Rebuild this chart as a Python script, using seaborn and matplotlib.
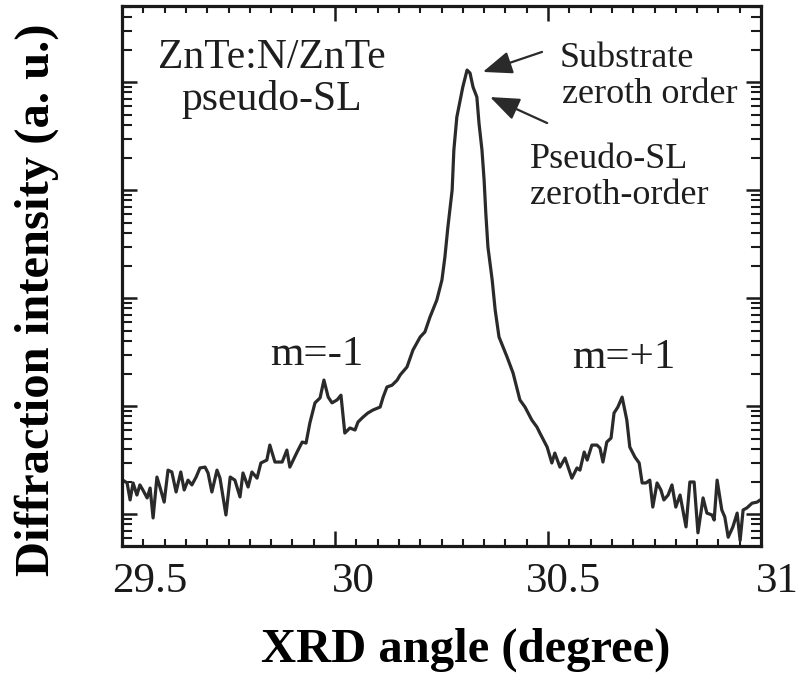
import numpy as np
import pandas as pd
import matplotlib
matplotlib.use("Agg")
import matplotlib.pyplot as plt
import matplotlib.transforms as mtransforms
from matplotlib.ticker import MultipleLocator, LogLocator, NullFormatter
import seaborn as sns

# ---------------- data ----------------
angle = [29.502, 29.512, 29.519, 29.526, 29.535, 29.542, 29.549, 29.559, 29.566, 29.573,
         29.582, 29.589, 29.599, 29.608, 29.617, 29.627, 29.638, 29.646, 29.655, 29.664,
         29.674, 29.683, 29.695, 29.702, 29.711, 29.723, 29.730, 29.744, 29.754, 29.765,
         29.777, 29.784, 29.796, 29.805, 29.817, 29.826, 29.840, 29.847, 29.859, 29.876,
         29.887, 29.894, 29.911, 29.923, 29.932, 29.941, 29.953, 29.965, 29.974, 29.984,
         29.993, 30.005, 30.014, 30.023, 30.035, 30.047, 30.054, 30.066, 30.077, 30.089,
         30.106, 30.113, 30.122, 30.134, 30.146, 30.153, 30.169, 30.183, 30.200, 30.211,
         30.223, 30.239, 30.251, 30.258, 30.265, 30.275, 30.279, 30.286, 30.293, 30.300,
         30.310, 30.317, 30.324, 30.333, 30.338, 30.345, 30.350, 30.354, 30.359, 30.369,
         30.376, 30.385, 30.404, 30.418, 30.434, 30.446, 30.462, 30.474, 30.481, 30.498,
         30.509, 30.516, 30.528, 30.540, 30.556, 30.568, 30.575, 30.585, 30.592, 30.603,
         30.615, 30.622, 30.629, 30.638, 30.648, 30.655, 30.664, 30.674, 30.685, 30.692,
         30.704, 30.714, 30.721, 30.730, 30.739, 30.746, 30.756, 30.765, 30.772, 30.782,
         30.791, 30.800, 30.810, 30.824, 30.833, 30.843, 30.852, 30.864, 30.873, 30.885,
         30.890, 30.897, 30.908, 30.915, 30.923, 30.934, 30.944, 30.951, 30.958, 30.967,
         30.979, 30.991, 30.998]
intensity = [20.6, 19.4, 13.5, 19.4, 15.0, 18.6, 16.7, 14.1, 17.4, 9.2,
             22.0, 17.8, 12.9, 25.5, 24.5, 16.0, 24.5, 16.7, 20.6, 18.6,
             22.0, 26.7, 27.2, 24.0, 16.0, 25.5, 21.5, 9.8, 22.0, 20.6,
             14.4, 24.0, 17.8, 24.5, 21.5, 29.7, 31.6, 43.5, 30.3, 30.3,
             39.1, 27.2, 37.5, 46.4, 45.4, 69.7, 107, 119, 174, 121,
             107, 114, 126, 56.2, 62.6, 60.0, 71.1, 79.1, 86.1, 91.8,
             97.9, 121, 150, 156, 174, 194, 230, 330, 436, 485,
             667, 958, 1467, 2400, 4540, 10000, 23450, 47400, 65300, 89900,
             129000, 121000, 89900, 72600, 41700, 23450, 12380, 6120, 2967, 1467,
             774, 436, 284, 202, 114, 97.9, 74.2, 63.9, 56.2, 41.7,
             29.7, 36.7, 27.2, 33.0, 21.5, 26.7, 25.5, 37.5, 31.6, 43.5,
             43.5, 40.8, 30.3, 46.4, 50.5, 86.1, 97.9, 121, 74.2, 41.7,
             33.7, 29.7, 19.4, 19.4, 20.6, 11.6, 19.4, 16.7, 13.5, 15.0,
             18.6, 11.6, 15.0, 7.6, 19.8, 19.8, 6.7, 14.1, 10.2, 9.8,
             8.8, 20.6, 10.9, 9.4, 6.1, 7.6, 10.2, 5.7, 10.9, 11.4,
             12.6, 12.9, 13.5]

x_ticks = [29.5, 30.0, 30.5, 31.0]
x_tick_labels = ["29.5", "30", "30.5", "31"]

# arrow endpoints (data units): tail -> tip
arrow_sub_tail = (30.486, 1.9e5)
arrow_sub_tip = (30.347, 1.24e5)
arrow_sl_tail = (30.498, 4.17e4)
arrow_sl_tip = (30.364, 7.26e4)

df = pd.DataFrame({"angle": angle, "intensity": intensity})

# ---------------- style ----------------
sns.set_style("ticks")
plt.rcParams["font.family"] = ["Liberation Serif", "DejaVu Serif"]
plt.rcParams["mathtext.fontset"] = "custom"

fig = plt.figure(figsize=(8.01, 6.87), dpi=100)
ax = fig.add_axes([122 / 801, 1 - 546 / 687, 639 / 801, 540 / 687])

sns.lineplot(data=df, x="angle", y="intensity", ax=ax, color="#2a2a2a",
             linewidth=2.3, estimator=None, sort=False, legend=False)

ax.set_yscale("log")
ax.set_xlim(29.5, 31.0)
ax.set_ylim(10 ** 0.704, 10 ** 5.704)

ax.set_xticks(x_ticks)
ax.set_xticklabels(x_tick_labels)
ax.xaxis.set_minor_locator(MultipleLocator(0.05))
ax.yaxis.set_major_locator(LogLocator(base=10, numticks=20))
ax.yaxis.set_minor_locator(LogLocator(base=10, subs=np.arange(2, 10), numticks=20))
ax.yaxis.set_major_formatter(NullFormatter())
ax.yaxis.set_minor_formatter(NullFormatter())

for sp in ax.spines.values():
    sp.set_linewidth(2.3)
    sp.set_color("#1a1a1a")

ax.tick_params(which="both", direction="in", top=True, right=True,
               color="#1a1a1a")
ax.tick_params(axis="x", which="major", length=11, width=1.8,
               labelsize=31, pad=12, labelcolor="#1a1a1a")
ax.tick_params(axis="x", which="minor", length=5, width=1.5)
ax.tick_params(axis="y", which="major", length=11, width=1.8)
ax.tick_params(axis="y", which="minor", length=7, width=1.5)

# labels shifted right, as in the scan
offsets_px = [28, 18, 15, 16]
for lab, dx in zip(ax.get_xticklabels(), offsets_px):
    lab.set_transform(lab.get_transform() +
                      mtransforms.ScaledTranslation(dx / 100, 0, fig.dpi_scale_trans))

ax.set_xlabel("")
ax.set_ylabel("")
fig.text(466 / 801, 1 - 650 / 687, "XRD angle (degree)", ha="center", va="center",
         fontsize=35, fontweight="bold", color="black")
fig.text(37 / 801, 1 - 300 / 687, "Diffraction intensity (a. u.)", ha="center",
         va="center", rotation=90, fontsize=35, fontweight="bold", color="black")

tc = "#1e1e1e"
ax.text(0.235, 0.885, "ZnTe:N/ZnTe", transform=ax.transAxes, ha="center",
        va="baseline", fontsize=30, color=tc)
ax.text(0.235, 0.807, "pseudo-SL", transform=ax.transAxes, ha="center",
        va="baseline", fontsize=30, color=tc)
ax.text(0.685, 0.887, "Substrate", transform=ax.transAxes, ha="left",
        va="baseline", fontsize=26, color=tc)
ax.text(0.689, 0.820, "zeroth order", transform=ax.transAxes, ha="left",
        va="baseline", fontsize=26, color=tc)
ax.text(0.638, 0.700, "Pseudo-SL", transform=ax.transAxes, ha="left",
        va="baseline", fontsize=26, color=tc)
ax.text(0.638, 0.633, "zeroth-order", transform=ax.transAxes, ha="left",
        va="baseline", fontsize=26, color=tc)
ax.text(0.305, 0.335, "m=-1", transform=ax.transAxes, ha="center",
        va="baseline", fontsize=31, color=tc)
ax.text(0.786, 0.330, "m=+1", transform=ax.transAxes, ha="center",
        va="baseline", fontsize=31, color=tc)

arrow_kw = dict(arrowstyle="-|>,head_length=0.9,head_width=0.35", color="#2a2a2a",
                lw=1.6, mutation_scale=20, shrinkA=0, shrinkB=0)
ax.annotate("", xy=arrow_sub_tip, xytext=arrow_sub_tail, arrowprops=arrow_kw)
ax.annotate("", xy=arrow_sl_tip, xytext=arrow_sl_tail, arrowprops=arrow_kw)

fig.savefig("out.png", dpi=100, facecolor="white")
